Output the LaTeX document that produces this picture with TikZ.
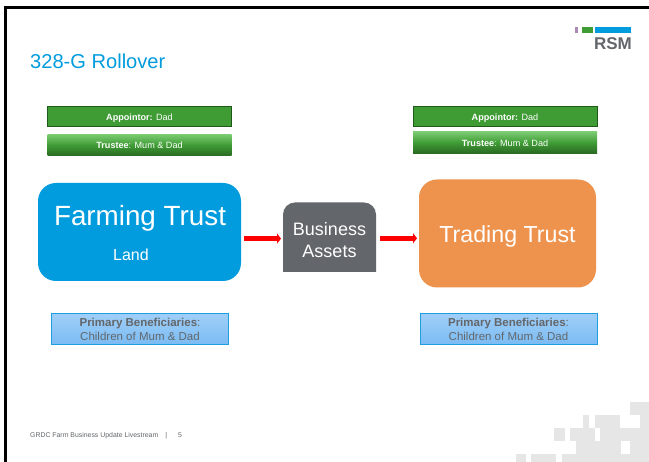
\documentclass[tikz,border=0pt]{standalone}
\usepackage{fontspec}
\setmainfont{Liberation Sans}
\usetikzlibrary{arrows.meta,calc}
\definecolor{rsmblue}{HTML}{009CDE}
\definecolor{rsmgreen}{HTML}{3F9C35}
\definecolor{rsmlight}{HTML}{7CCB72}
\definecolor{rsmdark}{HTML}{2A6A22}
\definecolor{rsmedge}{HTML}{1F5A1A}
\definecolor{rsmgray}{HTML}{63666A}
\definecolor{rsmorange}{HTML}{EE934D}
\definecolor{rsmpurple}{HTML}{A98BB5}
\definecolor{mosaic}{HTML}{E6E6E6}
\definecolor{bentop}{HTML}{A0CFF8}
\definecolor{benbot}{HTML}{7ABBF3}
\definecolor{benborder}{HTML}{1E9EE0}
\newcommand{\lowered}[2]{\raisebox{-#1pt}[0pt][0pt]{#2}}
\tikzset{
  x=1pt,y=-1pt,
  px/.style={font=\fontsize{#1}{#1}\selectfont},
  sized/.style args={#1 by #2}{minimum width=#1pt,minimum height=#2pt,inner sep=0pt,outer sep=0pt,anchor=center},
  appbox/.style={sized=184 by 20,fill=rsmgreen,draw=rsmedge,line width=0.9pt,text=white,font=\fontsize{9.1}{10}\selectfont},
  trubox/.style={sized=184 by 21.5,top color=rsmlight,bottom color=rsmdark,middle color=rsmgreen,text=white,font=\fontsize{9.1}{10}\selectfont},
  benbox/.style={sized=177 by 31,top color=bentop,bottom color=benbot,text=rsmgray,font=\fontsize{11.5}{14}\selectfont,align=center},
  benline/.style={draw=benborder,line width=1pt},
  trust/.style={rounded corners=18pt,text=white,align=center},
  flow/.style={draw=red,line width=5.2pt,-{Triangle[length=4pt,width=10pt]}},
  patch/.style={fill=mosaic,draw=none}
}
\begin{document}
\begin{tikzpicture}
\useasboundingbox (0,0) rectangle (649,462);
\fill[white] (0,0) rectangle (649,462);
% mosaic
\foreach \a/\b/\c/\d in {630/402/649/415,640/415/649/428,583/415/589/428,595/415/620/428,554/428/565/441,570/428/595/441,600/428/649/441,576/441/621/454,630/441/649/454,516/454/526/462,531/454/556/462,562/454/649/462}
  \fill[patch] (\a,\b) rectangle (\c,\d);
% frame
\draw[black,line width=2.8pt] (5.7,462) -- (5.7,7.4) -- (649,7.4);
% title
\node[anchor=west,inner sep=0pt,text=rsmblue,px=20.1] (title) at (30,61) {328-G Rollover};
% logo
\fill[rsmpurple] (575,27) rectangle (578,33);
\fill[rsmgreen] (582,27) rectangle (593,33);
\fill[rsmblue] (595,27) rectangle (631,33);
\node[anchor=east,inner sep=0pt,text=rsmgray,px=17] (logo) at (632,43.5) {\textbf{RSM}};
% top boxes
\node[appbox] (appL) at (139.5,116.5) {\lowered{3.7}{\textbf{Appointor:} Dad}};
\node[trubox] (truL) at (139.5,145) {\lowered{3.2}{\textbf{Trustee}: Mum \& Dad}};
\node[appbox] (appR) at (505,116.5) {\lowered{3.7}{\textbf{Appointor:} Dad}};
\node[trubox] (truR) at (505,142.5) {\lowered{3.7}{\textbf{Trustee}: Mum \& Dad}};
% trusts
\node[trust,fill=rsmblue,sized=203 by 98] (farm) at (139.5,232) {};
\node[text=white,px=27.8,inner sep=0pt] (farmT) at (140,218) {Farming Trust};
\node[text=white,px=16,inner sep=0pt] (land) at (131,255) {Land};
\fill[rsmgray] (283,272) [rounded corners=12pt] -- (283,202.5) -- (376,202.5) [sharp corners] -- (376,272) -- cycle;
\node[sized=93 by 70,text=white,align=center,font=\fontsize{18}{22}\selectfont] (biz) at (329.5,237) {\rule{0pt}{19pt}Business\\Assets};
\node[trust,fill=rsmorange,sized=177 by 108,text=white,font=\fontsize{23.2}{24}\selectfont] (trade) at (507.5,233.5) {\lowered{8.8}{Trading Trust}};
% arrows
\draw[flow,shorten <=2.5pt,shorten >=2pt] ([yshift=-1.6pt]farm.east |- biz.west) -- ([yshift=-1.6pt]biz.west);
\draw[flow,shorten <=4pt,shorten >=2pt] ([yshift=-1.3pt]biz.east) -- ([yshift=-1.3pt]trade.west |- biz.east);
% beneficiaries
\node[benbox] (benL) at (140,329) {\textbf{Primary Beneficiaries}:\\Children of Mum \& Dad};
\node[benbox] (benR) at (508.5,329) {\textbf{Primary Beneficiaries}:\\Children of Mum \& Dad};
\draw[benline] (benL.south west) rectangle (benL.north east);
\draw[benline] (benR.south west) rectangle (benR.north east);
% footer
\node[anchor=west,inner sep=0pt,text=rsmgray,px=6.9] (foot) at (30,435.5) {GRDC Farm Business Update Livestream\hspace{7pt}|\hspace{11pt}5};
\end{tikzpicture}
\end{document}
